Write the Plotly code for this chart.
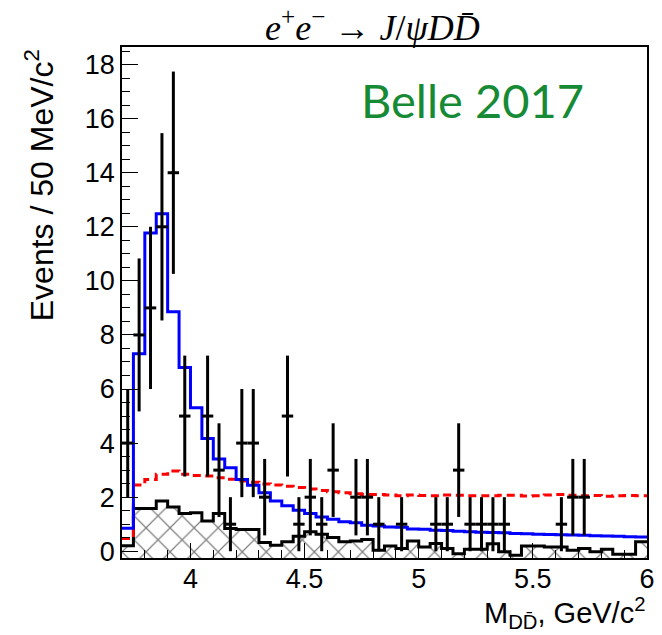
import numpy as np
import plotly.graph_objects as go

# Binning of the D Dbar invariant mass (GeV/c^2)
BIN_LO = 3.70
BIN_WIDTH = 0.05
N_BINS = 46

# Observed events per 50 MeV bin
data_counts = [4, 8, 9, 12, 14, 5, 0, 5, 3, 1,
               4, 4, 2, 0, 5, 1, 2, 1, 3, 0,
               2, 2, 1, 0, 1, 0, 0, 1, 1, 3,
               1, 1, 1, 1, 0, 0, 0, 0, 1, 2,
               2, 0, 0, 0, 0, 0]

# Total fit (blue histogram)
fit_total = [0.85, 7.30, 11.77, 12.48, 8.86, 6.80, 5.31, 4.17, 3.41, 3.09,
             2.65, 2.44, 2.16, 1.86, 1.68, 1.52, 1.40, 1.27, 1.18, 1.09,
             1.05, 0.96, 0.93, 0.90, 0.89, 0.82, 0.81, 0.78, 0.77, 0.74,
             0.72, 0.70, 0.69, 0.68, 0.66, 0.65, 0.63, 0.62, 0.61, 0.60,
             0.59, 0.57, 0.56, 0.55, 0.54, 0.53]

# Non-resonant component (red dashed)
nonres = [0.47, 2.45, 2.65, 2.85, 2.97, 2.85, 2.80, 2.78, 2.72, 2.66,
          2.60, 2.55, 2.49, 2.45, 2.40, 2.36, 2.30, 2.25, 2.20, 2.16,
          2.13, 2.10, 2.10, 2.08, 2.05, 2.08, 2.06, 2.05, 2.08, 2.07,
          2.05, 2.05, 2.05, 2.07, 2.07, 2.04, 2.05, 2.08, 2.10, 2.07,
          2.05, 2.06, 2.03, 2.05, 2.06, 2.05]

# Background estimate (hatched histogram)
background = [0.20, 1.58, 1.58, 1.86, 1.64, 1.40, 1.42, 1.12, 1.40, 0.84,
              0.80, 0.80, 0.32, 0.22, 0.35, 0.55, 0.72, 0.63, 0.51, 0.35,
              0.38, 0.43, 0.04, 0.19, 0.10, 0.38, 0.16, 0.29, 0.10, -0.09,
              0.07, 0.07, 0.28, -0.02, -0.15, 0.19, 0.19, 0.16, 0.16, 0.04,
              0.10, -0.02, 0.07, -0.11, -0.11, 0.35]

x_tick_vals = [4, 4.5, 5, 5.5, 6]
x_tick_text = ["4", "4.5", "5", "5.5", "6"]
y_tick_vals = [0, 2, 4, 6, 8, 10, 12, 14, 16, 18]

X_RANGE = [3.70, 6.00]
Y_RANGE = [-0.25, 18.65]

edges = BIN_LO + BIN_WIDTH * np.arange(N_BINS + 1)
centers = edges[:-1] + BIN_WIDTH / 2


def step(values):
    """Edge x-coordinates and values for an 'hv' step outline."""
    v = list(values)
    return list(edges), v + [v[-1]]


fig = go.Figure()

# Hatched background histogram, filled down to the bottom of the frame
bx, by = step(background)
fig.add_trace(go.Scatter(x=[edges[0], edges[-1]], y=[Y_RANGE[0], Y_RANGE[0]],
                         mode="lines", line=dict(width=0), hoverinfo="skip",
                         showlegend=False))
fig.add_trace(go.Scatter(
    x=bx, y=by, mode="lines", line=dict(color="black", width=3, shape="hv"),
    fill="tonexty", fillcolor="rgba(0,0,0,0)",
    fillpattern=dict(shape="x", size=17, solidity=0.14,
                     fgcolor="black", bgcolor="rgba(255,255,255,0)"),
    showlegend=False))

# Non-resonant component
rx, ry = step(nonres)
fig.add_trace(go.Scatter(x=rx, y=ry, mode="lines",
                         line=dict(color="red", width=3, shape="hv",
                                   dash="8px,5px"),
                         showlegend=False))

# Total fit
fx, fy = step(fit_total)
fig.add_trace(go.Scatter(x=fx, y=fy, mode="lines",
                         line=dict(color="blue", width=3, shape="hv"),
                         showlegend=False))

# Data points with Poisson errors (empty bins are not drawn)
counts = np.array(data_counts, dtype=float)
mask = counts > 0
fig.add_trace(go.Scatter(
    x=centers[mask], y=counts[mask], mode="markers",
    marker=dict(size=2, color="black", opacity=0),
    error_y=dict(type="data", array=np.sqrt(counts[mask]), width=0,
                 thickness=3, color="black"),
    error_x=dict(type="constant", value=BIN_WIDTH / 2, width=0,
                 thickness=3, color="black"),
    showlegend=False))

axis_font = dict(family="Liberation Sans, Arial, sans-serif", size=27,
                 color="black")

fig.update_xaxes(
    range=X_RANGE, tickmode="array", tickvals=x_tick_vals,
    ticktext=x_tick_text, ticks="inside", ticklen=15, tickwidth=1,
    tickcolor="black", tickfont=axis_font, ticklabelstandoff=-4,
    minor=dict(dtick=0.1, tick0=4, ticks="inside", ticklen=8,
               tickcolor="black", tickwidth=1),
    showline=True, linecolor="black", linewidth=1.5, mirror=True,
    showgrid=False, zeroline=False)

fig.update_yaxes(
    range=Y_RANGE, tickmode="array", tickvals=y_tick_vals,
    ticks="inside", ticklen=16, tickwidth=1, tickcolor="black",
    tickfont=axis_font,
    minor=dict(dtick=0.5, tick0=0, ticks="inside", ticklen=8,
               tickcolor="black", tickwidth=1),
    showline=True, linecolor="black", linewidth=1.5, mirror=True,
    showgrid=False, zeroline=False)

annotations = [
    # Process label above the frame
    dict(text="<i>e</i><sup>+</sup><i>e</i><sup>\u2212</sup> \u2192 "
              "<i>J</i>/<i>\u03c8DD\u0304</i>",
         x=0.4765, y=1.043, xref="paper", yref="paper",
         xanchor="center", yanchor="middle", showarrow=False,
         font=dict(family="Liberation Serif, Times New Roman, serif",
                   size=36, color="black")),
    # Experiment label
    dict(text="Belle 2017", x=0.668, y=0.896, xref="paper", yref="paper",
         xanchor="center", yanchor="middle", showarrow=False,
         font=dict(family="Lato, sans-serif", size=47,
                   color="rgb(22,138,52)")),
    # Y-axis title, aligned to the top of the frame
    dict(text="Events / 50 MeV/c<sup>2</sup>", textangle=-90,
         x=-0.1576, y=1.0, xref="paper", yref="paper",
         xanchor="center", yanchor="top", showarrow=False,
         font=dict(family="Liberation Sans, Arial, sans-serif", size=32,
                   color="black")),
    # X-axis title, aligned to the right end of the axis
    dict(text="M<sub>DD\u0304</sub>, GeV/c<sup>2</sup>",
         x=1.0, y=-0.151, xref="paper", yref="paper",
         xanchor="right", yanchor="bottom", showarrow=False,
         font=dict(family="Liberation Sans, Arial, sans-serif", size=29,
                   color="black")),
]

fig.update_layout(
    width=662, height=635,
    margin=dict(l=122, r=7, t=47, b=77),
    paper_bgcolor="white", plot_bgcolor="white",
    annotations=annotations,
    showlegend=False,
)

fig.write_html("out.html")
